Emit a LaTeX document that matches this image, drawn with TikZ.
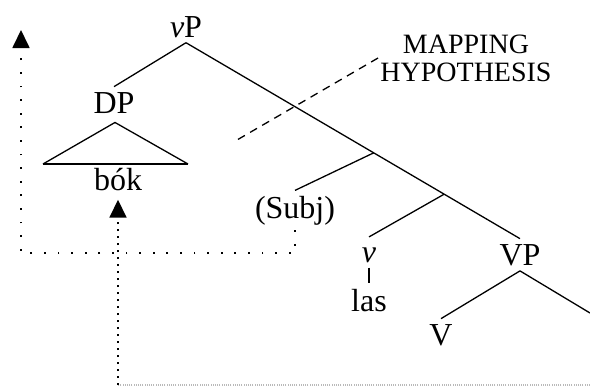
\documentclass[tikz,border=0pt]{standalone}
\usepackage{fontspec}
\setmainfont{Liberation Serif}
\usetikzlibrary{arrows.meta,calc}

\begin{document}
\begin{tikzpicture}[
        x=0.5pt, y=-0.5pt,
        treeLabel/.style={font=\fontsize{16}{19}\selectfont, inner sep=2.5pt},
        branch/.style={line width=0.65pt},
        traceLine/.style={line width=0.9pt, dash pattern=on 0.9pt off 5.9pt},
        traceDense/.style={line width=0.9pt, dash pattern=on 0.9pt off 2.6pt},
        upArrow/.style={-{Triangle[width=8.5pt, length=9pt]}}
    ]
        \useasboundingbox (0, 0) rectangle (590, 387);

        % Etichette dell'albero
        \node[treeLabel, anchor=base] (vP) at (186, 37) {\textit{ν}P};
        \node[treeLabel, anchor=base] (DP) at (114, 113) {DP};
        \node[treeLabel, anchor=base] (bok) at (118, 190) {bók};
        \node[treeLabel, anchor=base] (subj) at (295, 218) {(Subj)};
        \node[treeLabel, anchor=base] (littlev) at (369, 262) {\textit{ν}};
        \node[treeLabel, anchor=base] (las) at (369, 311) {las};
        \node[treeLabel, anchor=base] (VP) at (520, 265) {VP};
        \node[treeLabel, anchor=base] (V) at (441, 345) {V};

        % Mapping hypothesis
        \node[font=\fontsize{14}{14}\selectfont, align=center, inner sep=1pt] (mh) at (466, 58) {MAPPING\\HYPOTHESIS};

        % Rami
        \coordinate (barOne) at ($(vP.south)!0.562!(VP.north)$);
        \coordinate (barTwo) at ($(vP.south)!0.773!(VP.north)$);
        \coordinate (vpRight) at (590, 313);
        \draw[branch] (vP.south) -- (DP.north);
        \draw[branch] (vP.south) -- (barOne) -- (barTwo) -- (VP.north);
        \draw[branch] (barOne) -- (subj.north);
        \draw[branch] (barTwo) -- ([yshift=2.5pt]littlev.north);
        \draw[branch] (littlev.south) -- (las.north);
        \draw[branch] (VP.south) -- (V.north);
        \draw[branch] (VP.south) -- (vpRight);

        % Triangolo DP
        \coordinate (triTop) at ($(DP.south)+(1, 4)$);
        \coordinate (triLeft) at (43, 164);
        \coordinate (triRight) at (188, 164);
        \draw[branch] (triLeft) -- (triTop) -- (triRight);
        \draw[line width=1pt] (triLeft) -- (triRight);

        % Linea tratteggiata
        \coordinate (mhEnd) at (237, 140);
        \draw[line width=0.65pt, dash pattern=on 4pt off 3pt] (mh.west) -- (mhEnd);

        % Frecce punteggiate
        \coordinate (topEnd) at (21, 30);
        \coordinate (leftCorner) at (21, 253);
        \draw[traceLine, upArrow] (subj.south) |- (leftCorner) -- (topEnd);

        \coordinate (bottomRight) at (590, 385);
        \coordinate (bokFoot) at (bok.south |- bottomRight);
        \draw[gray!55, line width=0.6pt, dash pattern=on 0.5pt off 0.6pt] (bottomRight) -- (bokFoot);
        \draw[traceDense, upArrow] (bokFoot) -- ([yshift=-2pt]bok.south);
    \end{tikzpicture}
\end{document}
